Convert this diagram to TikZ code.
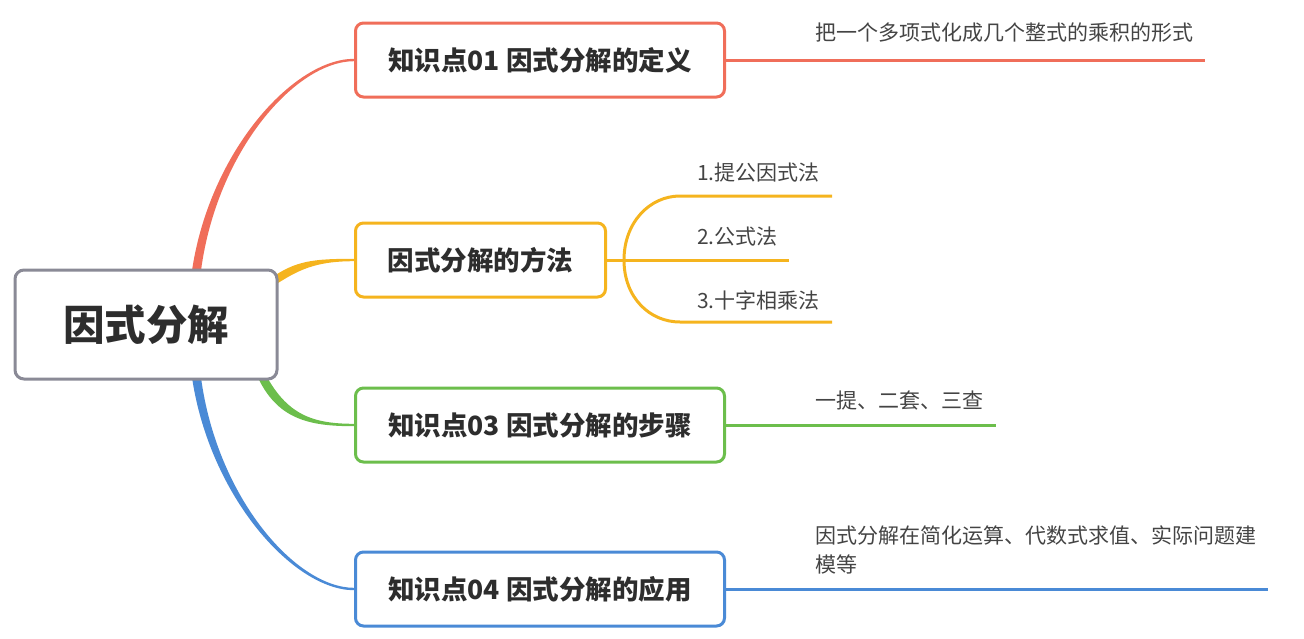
\documentclass[tikz,border=0pt]{standalone}
\usepackage{fontspec}
\setmainfont{Noto Sans CJK SC}
\usetikzlibrary{calc,backgrounds}
\definecolor{cred}{RGB}{240,110,90}
\definecolor{cyellow}{RGB}{245,180,30}
\definecolor{cgreen}{RGB}{108,190,76}
\definecolor{cblue}{RGB}{74,138,214}
\definecolor{cgray}{RGB}{138,138,150}
\definecolor{ctext}{RGB}{45,45,45}
\definecolor{cleaf}{RGB}{68,68,68}
\begin{document}
\begin{tikzpicture}[x=1pt,y=-1pt,
  mainbox/.style={draw=cgray, line width=3pt, rounded corners=9pt, fill=white,
    minimum width=262pt, minimum height=109pt,
    font=\fontsize{41.5}{48}\selectfont\bfseries, text=ctext},
  topic/.style={draw=#1, line width=3pt, rounded corners=8pt, fill=white,
    minimum height=74pt, anchor=west,
    font=\fontsize{26.5}{30}\selectfont\bfseries, text=ctext},
  leaf/.style={font=\fontsize{21}{28.5}\selectfont, text=cleaf, anchor=west, inner sep=0pt},
  leafline/.style={draw=#1, line width=3pt},
]
\useasboundingbox (0,0) rectangle (1304,638);

% nodes
\node[mainbox] (root) at (146,324.5) {因式分解};
\node[topic=cred, minimum width=369pt] (b1) at (354,60) {知识点01 因式分解的定义};
\node[topic=cyellow, minimum width=250pt] (b2) at (354,260) {因式分解的方法};
\node[topic=cgreen, minimum width=369pt] (b3) at (354,425) {知识点03 因式分解的步骤};
\node[topic=cblue, minimum width=369pt] (b4) at (354,589) {知识点04 因式分解的应用};

% tapered connectors
\begin{pgfonlayer}{background}
\fill[cred] ($(root.north)+(46,2)$) .. controls +(18,-120) and +(-60,0) .. ($(b1.west)+(0,-1.2)$)
  -- ($(b1.west)+(0,1.2)$) .. controls +(-58,0) and +(16,-120) .. ($(root.north)+(55,2)$) -- cycle;
\fill[cyellow] ($(root.north east)+(-8,10)$) .. controls +(25,-18) and +(-40,0) .. ($(b2.west)+(0,-1.2)$)
  -- ($(b2.west)+(0,1.2)$) .. controls +(-40,0) and +(25,-16) .. ($(root.north east)+(-6,18)$) -- cycle;
\fill[cgreen] ($(root.south east)+(-22,-6)$) .. controls +(20,45) and +(-45,0) .. ($(b3.west)+(0,1.2)$)
  -- ($(b3.west)+(0,-1.2)$) .. controls +(-42,0) and +(22,42) .. ($(root.south east)+(-14,-8)$) -- cycle;
\fill[cblue] ($(root.south)+(46,-3)$) .. controls +(18,120) and +(-60,0) .. ($(b4.west)+(0,1.2)$)
  -- ($(b4.west)+(0,-1.2)$) .. controls +(-58,0) and +(16,120) .. ($(root.south)+(55,-3)$) -- cycle;
\end{pgfonlayer}

% branch 1
\coordinate (e1) at (1205,60);
\draw[leafline=cred] (b1.east) -- (e1);
\node[leaf] (t1) at (815,33) {把一个多项式化成几个整式的乘积的形式};

% branch 2
\coordinate (f) at (624,260);
\coordinate (y1s) at (680,196);
\coordinate (y1) at (832,196);
\coordinate (y2) at (789,260);
\coordinate (y3s) at (680,322);
\coordinate (y3) at (832,322);
\draw[leafline=cyellow] (b2.east) -- (f);
\draw[leafline=cyellow] (f) .. controls +(0,-38) and +(-30,0) .. (y1s) -- (y1);
\draw[leafline=cyellow] (f) -- (y2);
\draw[leafline=cyellow] (f) .. controls +(0,38) and +(-30,0) .. (y3s) -- (y3);
\node[leaf] (s1) at (697,173) {1.提公因式法};
\node[leaf] (s2) at (697,237) {2.公式法};
\node[leaf] (s3) at (697,300) {3.十字相乘法};

% branch 3
\coordinate (e3) at (996,425);
\draw[leafline=cgreen] (b3.east) -- (e3);
\node[leaf] (t3) at (815,401) {一提、二套、三查};

% branch 4
\coordinate (e4) at (1268,589);
\draw[leafline=cblue] (b4.east) -- (e4);
\node[leaf, anchor=north west, align=left] (t4) at (815,526) {因式分解在简化运算、代数式求值、实际问题建\\模等};
\end{tikzpicture}
\end{document}
